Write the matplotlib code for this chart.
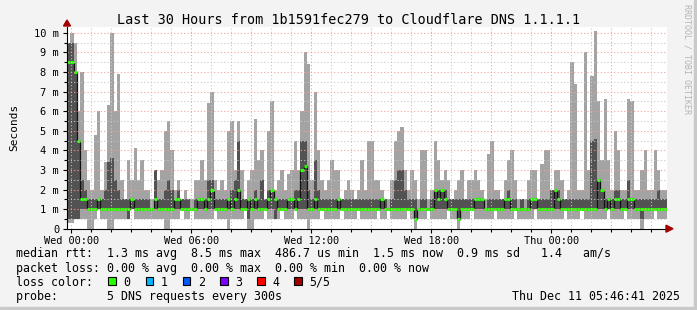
import numpy as np
import matplotlib
matplotlib.use("Agg")
import matplotlib.pyplot as plt
from matplotlib.patches import Rectangle, Polygon

# ---------------- data (ms), 10-minute buckets, 30 h window -----------------
start_h = -(13 + 19 / 60) / 60      # Tue 23:46:41 relative to Wed 00:00 (hours)
step_h = 10 / 60

hi = [9.5, 10, 9.5, 6.0, 8.0, 4.0, 2.5, 2.0, 4.8, 6.0,
      2.0, 3.4, 6.3, 10, 6.0, 7.9, 2.5, 1.5, 3.5, 2.5,
      4.1, 2.5, 3.5, 2.0, 2.0, 1.5, 3.0, 2.5, 3.0, 5.0,
      5.5, 4.0, 2.0, 2.5, 1.5, 2.0, 1.5, 1.5, 2.5, 2.5,
      3.5, 2.5, 6.4, 7.0, 2.5, 2.0, 2.5, 2.0, 5.0, 5.5,
      3.0, 5.5, 3.0, 1.5, 2.5, 3.0, 5.6, 3.5, 4.0, 1.5,
      5.0, 6.5, 2.0, 2.5, 3.0, 2.0, 2.8, 3.0, 4.5, 3.0,
      6.0, 9.0, 8.4, 2.5, 7.0, 4.0, 2.5, 2.0, 2.5, 3.5,
      3.0, 3.0, 1.5, 2.0, 2.5, 2.0, 1.5, 2.0, 3.5, 2.0,
      4.5, 4.5, 2.5, 2.5, 2.0, 1.5, 1.5, 2.5, 4.5, 5.0,
      5.2, 3.0, 2.0, 3.0, 2.5, 1.5, 4.0, 4.0, 1.5, 2.0,
      4.5, 3.5, 2.5, 3.0, 2.5, 1.5, 2.0, 2.5, 3.0, 1.5,
      2.5, 2.5, 3.0, 2.5, 2.0, 1.5, 3.8, 4.5, 2.0, 2.0,
      1.5, 2.5, 3.5, 4.0, 2.5, 1.5, 1.5, 1.5, 2.5, 3.0,
      3.0, 1.5, 3.3, 4.0, 4.0, 2.0, 3.0, 3.0, 2.5, 1.5,
      2.0, 8.5, 7.4, 2.0, 2.0, 9.0, 3.0, 7.8, 10.1, 6.5,
      3.5, 6.6, 3.5, 2.0, 5.0, 4.0, 2.0, 2.0, 6.6, 6.5,
      2.0, 2.0, 3.0, 4.0, 2.0, 2.0, 4.0, 3.0, 2.0, 2.0]

p4 = [9.5, 9.5, 8.0, 4.5, 2.5, 2.0, 1.5, 1.5, 1.5, 1.5,
      1.5, 2.0, 3.4, 3.6, 2.5, 2.0, 1.5, 1.5, 1.5, 1.5,
      1.5, 1.5, 1.5, 1.5, 1.5, 1.0, 3.0, 1.5, 1.5, 2.0,
      2.5, 2.0, 1.5, 2.0, 1.5, 1.5, 1.5, 1.0, 1.5, 1.5,
      1.5, 1.5, 2.5, 2.5, 1.5, 1.5, 1.5, 1.5, 1.5, 2.0,
      2.5, 4.5, 1.5, 1.5, 1.5, 1.5, 2.0, 1.5, 2.5, 1.5,
      2.0, 2.0, 1.5, 1.5, 1.5, 1.5, 1.5, 1.5, 2.0, 2.0,
      4.5, 4.5, 2.0, 1.5, 3.5, 2.0, 1.5, 1.5, 1.5, 1.5,
      1.5, 1.5, 1.5, 1.5, 1.5, 1.5, 1.5, 1.5, 1.5, 1.5,
      1.5, 1.5, 1.5, 1.5, 1.5, 1.5, 1.0, 1.5, 2.5, 3.0,
      3.0, 2.0, 1.5, 1.5, 1.5, 1.0, 1.5, 1.5, 1.0, 1.5,
      2.0, 2.0, 2.0, 2.0, 1.5, 1.5, 1.5, 1.5, 1.5, 1.5,
      1.5, 1.5, 1.5, 1.5, 1.5, 1.0, 1.5, 1.5, 1.5, 1.5,
      1.5, 1.5, 2.0, 1.5, 1.5, 1.0, 1.5, 1.0, 1.5, 1.5,
      1.5, 1.5, 1.5, 1.5, 1.5, 2.0, 2.0, 2.0, 1.5, 1.5,
      1.5, 1.5, 1.5, 1.5, 1.5, 1.5, 1.5, 4.5, 4.6, 2.5,
      2.0, 1.5, 1.5, 1.5, 2.0, 2.0, 1.5, 1.5, 2.5, 1.5,
      1.5, 1.5, 1.5, 1.5, 1.5, 1.5, 1.5, 2.0, 1.5, 1.5]

med = [8.5, 8.5, 8.0, 4.5, 1.5, 1.5, 1.0, 1.0, 1.0, 1.5,
       1.0, 1.0, 1.0, 1.0, 1.0, 1.0, 1.0, 1.0, 1.0, 1.5,
       1.0, 1.0, 1.0, 1.0, 1.0, 1.0, 1.5, 1.0, 1.0, 1.0,
       1.0, 1.0, 1.5, 1.5, 1.0, 1.0, 1.0, 1.0, 1.0, 1.5,
       1.5, 1.0, 1.5, 2.0, 1.0, 1.0, 1.0, 1.0, 1.5, 1.0,
       1.5, 2.0, 1.0, 1.0, 1.5, 1.0, 1.5, 1.0, 1.0, 1.0,
       1.5, 2.0, 1.5, 1.0, 1.0, 1.0, 1.5, 1.5, 1.0, 1.5,
       3.0, 3.2, 1.0, 1.0, 1.5, 1.0, 1.0, 1.0, 1.0, 1.0,
       1.0, 1.5, 1.0, 1.0, 1.0, 1.0, 1.0, 1.0, 1.0, 1.0,
       1.0, 1.0, 1.0, 1.0, 1.5, 1.0, 1.0, 1.0, 1.0, 1.0,
       1.0, 1.0, 1.0, 1.0, 0.5, 1.0, 1.0, 1.0, 1.0, 1.0,
       2.0, 1.5, 2.0, 1.5, 1.0, 1.0, 1.0, 0.5, 1.0, 1.0,
       1.0, 1.0, 1.5, 1.5, 1.5, 1.0, 1.0, 1.0, 1.0, 1.0,
       1.0, 1.5, 1.5, 1.0, 1.0, 1.0, 1.0, 1.0, 1.0, 1.5,
       1.5, 1.0, 1.0, 1.0, 1.0, 1.0, 2.0, 1.5, 1.0, 1.0,
       1.0, 1.0, 1.0, 1.0, 1.0, 1.0, 1.0, 1.0, 1.0, 2.5,
       2.0, 1.0, 1.5, 1.0, 1.5, 1.5, 1.0, 1.0, 1.5, 1.5,
       1.0, 1.0, 1.0, 1.0, 1.0, 1.0, 1.0, 1.0, 1.0, 1.0]

p2 = [0.5, 0.5, 0.5, 0.5, 1.0, 1.0, 1.0, 1.0, 1.0, 1.0,
      1.0, 1.0, 1.0, 1.0, 1.0, 1.0, 1.0, 1.0, 0.5, 1.0,
      1.0, 1.0, 1.0, 1.0, 1.0, 1.0, 1.0, 1.0, 1.0, 1.0,
      1.0, 1.0, 1.0, 1.0, 1.0, 1.0, 1.0, 1.0, 1.0, 1.0,
      1.0, 1.0, 1.0, 1.0, 1.0, 1.0, 1.0, 1.0, 1.0, 1.0,
      1.0, 1.0, 1.0, 1.0, 0.5, 1.0, 1.0, 1.0, 1.0, 1.0,
      1.0, 1.0, 0.5, 1.0, 1.0, 1.0, 1.0, 1.0, 1.0, 1.0,
      1.0, 1.0, 1.0, 1.0, 1.0, 1.0, 1.0, 1.0, 1.0, 1.0,
      1.0, 1.0, 1.0, 1.0, 1.0, 1.0, 1.0, 1.0, 1.0, 1.0,
      1.0, 1.0, 1.0, 1.0, 1.0, 1.0, 1.0, 1.0, 1.0, 1.0,
      1.0, 1.0, 1.0, 1.0, 0.5, 1.0, 1.0, 1.0, 1.0, 1.0,
      1.0, 1.0, 1.0, 1.0, 1.0, 1.0, 1.0, 0.5, 1.0, 1.0,
      1.0, 1.0, 1.0, 1.0, 1.0, 1.0, 1.0, 1.0, 1.0, 1.0,
      1.0, 1.0, 1.0, 1.0, 1.0, 1.0, 1.0, 1.0, 1.0, 1.0,
      1.0, 1.0, 1.0, 1.0, 1.0, 1.0, 1.0, 1.0, 1.0, 1.0,
      1.0, 1.0, 1.0, 1.0, 1.0, 1.0, 1.0, 1.0, 1.0, 1.0,
      1.0, 1.0, 1.0, 1.0, 1.0, 1.0, 1.0, 1.0, 1.0, 1.0,
      1.0, 1.0, 0.5, 1.0, 1.0, 1.0, 1.0, 1.0, 1.0, 1.0]

lo = [0.3, 0.3, 0.5, 0.5, 0.5, 0.5, 0.0, 0.0, 0.5, 1.0,
      0.5, 0.5, 0.0, 0.0, 0.5, 0.5, 0.5, 0.5, 0.5, 1.0,
      0.5, 0.5, 0.5, 0.5, 0.5, 0.5, 0.5, 0.5, 0.5, 0.0,
      0.0, 0.5, 0.5, 0.5, 1.0, 0.5, 0.5, 1.0, 0.5, 0.5,
      0.5, 0.5, 0.5, 0.5, 1.0, 0.5, 0.5, 0.5, 0.0, 0.5,
      0.5, 0.5, 0.5, 1.0, 0.0, 0.0, 0.5, 0.5, 0.5, 1.0,
      0.5, 0.5, 0.5, 0.5, 1.0, 0.5, 0.5, 0.5, 1.0, 0.5,
      0.5, 0.5, 0.0, 0.5, 0.5, 0.5, 1.0, 0.5, 0.5, 0.5,
      0.5, 0.5, 1.0, 0.5, 0.5, 0.5, 0.5, 1.0, 0.5, 0.5,
      0.5, 0.5, 0.5, 1.0, 0.5, 0.5, 1.0, 0.5, 0.5, 0.5,
      0.5, 0.5, 1.0, 0.5, 0.0, 0.5, 0.5, 0.5, 1.0, 0.5,
      0.5, 0.5, 0.5, 0.5, 1.0, 0.5, 0.5, 0.0, 0.5, 0.5,
      0.5, 1.0, 0.5, 0.5, 0.5, 0.5, 0.5, 0.5, 1.0, 0.5,
      0.5, 0.5, 0.5, 0.5, 1.0, 0.5, 0.5, 0.5, 0.5, 0.5,
      1.0, 0.5, 0.5, 0.5, 0.5, 0.5, 0.5, 0.5, 0.5, 1.0,
      0.5, 0.5, 0.5, 0.5, 1.0, 0.5, 0.5, 0.5, 0.5, 0.5,
      0.5, 0.5, 1.0, 0.5, 0.5, 0.5, 0.5, 1.0, 0.5, 0.5,
      0.5, 0.5, 0.0, 0.5, 0.5, 0.5, 1.0, 0.5, 0.5, 0.5]

y_ticks = [0, 1, 2, 3, 4, 5, 6, 7, 8, 9, 10]
y_ticklabels = ["0", "1 m", "2 m", "3 m", "4 m", "5 m", "6 m", "7 m", "8 m", "9 m", "10 m"]
x_ticks = [0, 6, 12, 18, 24]
x_ticklabels = ["Wed 00:00", "Wed 06:00", "Wed 12:00", "Wed 18:00", "Thu 00:00"]

title = "Last 30 Hours from 1b1591fec279 to Cloudflare DNS 1.1.1.1"
legend_lines = [
    "median rtt:  1.3 ms avg  8.5 ms max  486.7 us min  1.5 ms now  0.9 ms sd   1.4   am/s",
    "packet loss: 0.00 % avg  0.00 % max  0.00 % min  0.00 % now",
    "loss color:",
    "probe:       5 DNS requests every 300s",
]
loss_labels = ["0", "1", "2", "3", "4", "5/5"]
loss_colors = ["#26ff00", "#00b8ff", "#0059ff", "#7e00ff", "#ff0000", "#a10000"]
timestamp = "Thu Dec 11 05:46:41 2025"

# ---------------- figure ------------------------------------------------------
W, H = 697, 310
fig = plt.figure(figsize=(W / 100, H / 100), dpi=100)
fig.patch.set_facecolor("#f3f3f3")
MONO = "DejaVu Sans Mono"

def fx(px):
    return px / W

def fy(py):
    return 1 - py / H

ax_l, ax_r, ax_t, ax_b = 67, 667, 27, 228.7
ax = fig.add_axes([fx(ax_l), fy(ax_b), (ax_r - ax_l) / W, (ax_b - ax_t) / H])
ax.set_facecolor("white")

n = len(hi)
edges = start_h + np.arange(n + 1) * step_h
hi_a, p4_a, med_a, p2_a, lo_a = map(np.asarray, (hi, p4, med, p2, lo))

ax.stairs(hi_a, edges, baseline=lo_a, fill=True, color="#a3a3a3", lw=0, zorder=2)
ax.stairs(p4_a, edges, baseline=p2_a, fill=True, color="#525252", lw=0, zorder=3)
ax.stairs(med_a, edges, baseline=None, color="#111111", lw=0.9, zorder=4)
ax.hlines(med_a, edges[:-1], edges[1:], color="#26ff00", lw=2.2, zorder=5)

ax.set_xlim(edges[0], start_h + 30)
ax.set_ylim(0, 10.3)

# grid (rrdtool style, dotted)
for v in np.arange(0.5, 10.3, 0.5):
    major = abs(v - round(v)) < 1e-6
    ax.axhline(v, color="#f2a0a0" if major else "#c8c8c8", lw=0.8,
               ls=(0, (1, 2)), zorder=6)
for h in range(0, 30):
    major = h % 3 == 0
    ax.axvline(h, color="#f2a0a0" if major else "#c8c8c8", lw=0.8,
               ls=(0, (1, 2)), zorder=6)

for s in ["top", "right"]:
    ax.spines[s].set_visible(False)
for s in ["left", "bottom"]:
    ax.spines[s].set_color("black")
    ax.spines[s].set_linewidth(0.8)
    ax.spines[s].set_zorder(7)

ax.set_yticks(y_ticks)
ax.set_yticklabels(y_ticklabels, fontfamily=MONO, fontsize=7.5)
ax.set_yticks(np.arange(0.5, 10.3, 1.0), minor=True)
ax.set_xticks(x_ticks)
ax.set_xticklabels(x_ticklabels, fontfamily=MONO, fontsize=7.4)
ax.set_xticks([h for h in range(0, 30) if h % 6], minor=True)
ax.tick_params(axis="y", which="major", length=3, width=0.8, pad=2.6, colors="black")
ax.tick_params(axis="y", which="minor", length=2, width=0.8)
ax.tick_params(axis="x", which="major", length=3, width=0.8, pad=2.5, colors="black")
ax.tick_params(axis="x", which="minor", length=2, width=0.8)

# arrows on axes
arrow_col = "#a10000"
fig.patches.append(Polygon([[fx(ax_r - 1), fy(ax_b - 3.5)], [fx(ax_r - 1), fy(ax_b + 3.5)],
                            [fx(ax_r + 6), fy(ax_b)]], closed=True, transform=fig.transFigure,
                           color=arrow_col, zorder=10))
fig.patches.append(Polygon([[fx(ax_l - 3.5), fy(ax_t - 1)], [fx(ax_l + 3.5), fy(ax_t - 1)],
                            [fx(ax_l), fy(ax_t - 7)]], closed=True, transform=fig.transFigure,
                           color=arrow_col, zorder=10))

# texts
fig.text(fx(348.5), fy(24), title, family=MONO, fontsize=9.76, ha="center", va="baseline")
fig.text(fx(14), fy(127), "Seconds", family=MONO, fontsize=8.0, rotation=90,
         ha="center", va="center")
fig.text(fx(687.5), fy(4), "RRDTOOL / TOBI OETIKER", family=MONO, fontsize=6.0,
         rotation=270, ha="center", va="top", color="#b4b4b4")

baselines = [257.5, 271.7, 285.9, 300.1]
for txt, yb in zip(legend_lines, baselines):
    fig.text(fx(15.7), fy(yb), txt, family=MONO, fontsize=8.4, ha="left", va="baseline")

box_x = [108.3, 145.7, 182.9, 220.1, 257.3, 294.3]
for bx, lab, col in zip(box_x, loss_labels, loss_colors):
    fig.patches.append(Rectangle((fx(bx), fy(284.8)), 7.4 / W, 7.4 / H,
                                 transform=fig.transFigure, facecolor=col,
                                 edgecolor="black", lw=0.8, zorder=10))
    fig.text(fx(bx + 15), fy(baselines[2]), lab, family=MONO, fontsize=8.4,
             ha="left", va="baseline")

fig.text(fx(680), fy(baselines[3]), timestamp, family=MONO, fontsize=8.4,
         ha="right", va="baseline")

# frame shading (rrdtool 3D border)
fig.patches.append(Rectangle((fx(694), 0), 3 / W, 1, transform=fig.transFigure,
                             color="#c9c9c9", zorder=9))
fig.patches.append(Rectangle((0, 0), 1, 3 / H, transform=fig.transFigure,
                             color="#c9c9c9", zorder=9))

fig.savefig("out.png", dpi=100, facecolor=fig.get_facecolor())
